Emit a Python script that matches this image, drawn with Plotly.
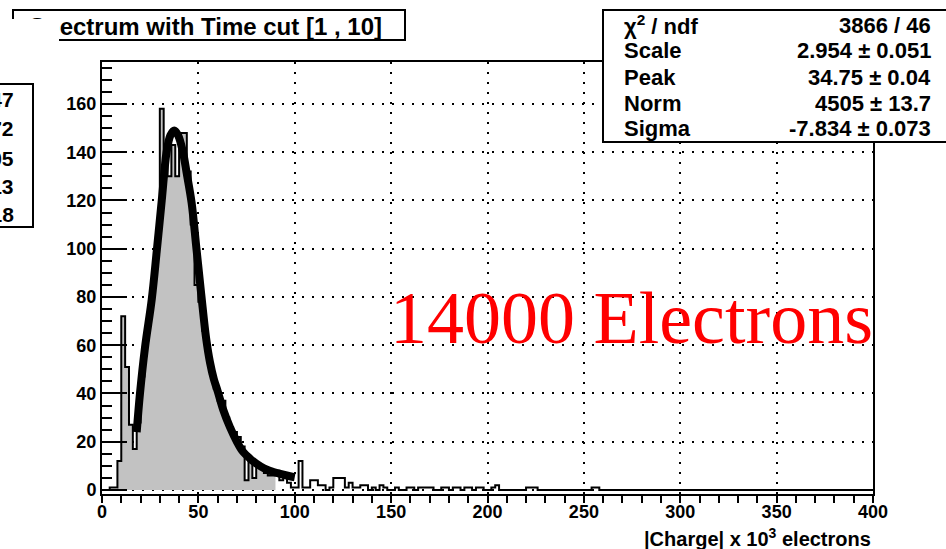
import plotly.graph_objects as go

# ---------------- data ----------------
bin_width = 2.0
x_min, x_max = 0.0, 400.0
counts = [
    0, 0, 1, 1, 12, 72, 51, 27, 17, 28,          # 0-20
    47, 62, 75, 89, 105, 158, 135, 130, 143, 130,  # 20-40
    148, 148, 132, 110, 85, 78, 66, 56, 48, 42,   # 40-60
    37, 37, 30, 26, 24, 22, 18, 4, 13, 5,         # 60-80
    10, 9, 7, 6, 6, 8, 4, 5, 3, 1,                # 80-100
    1, 12, 1, 1, 4, 4, 2, 2, 0, 1,                # 100-120
    5, 5, 5, 1, 3, 1, 1, 2, 2, 0,                 # 120-140
    1, 0, 2, 1, 0, 0, 1, 0, 0, 1,                 # 140-160
    1, 0, 1, 1, 1, 1, 0, 0, 1, 1,                 # 160-180
    0, 1, 1, 0, 1, 1, 0, 1, 1, 0,                 # 180-200
    0, 1, 2, 0, 0, 0, 0, 0, 0, 0,                 # 200-220
    1, 1, 1, 0, 0, 0, 0, 0, 0, 0,                 # 220-240
    0, 0, 0, 0, 0, 0, 0, 1, 1, 0,                 # 240-260
    0, 0, 0, 0, 0, 0, 0, 0, 0, 0,                 # 260-280
    0, 0, 0, 0, 0, 0, 0, 0, 0, 0,                 # 280-300
    0, 0, 0, 0, 0, 0, 0, 0, 0, 0,                 # 300-320
    0, 0, 0, 0, 0, 0, 0, 0, 0, 0,                 # 320-340
    0, 0, 0, 0, 0, 0, 0, 0, 0, 0,                 # 340-360
    0, 0, 0, 0, 0, 0, 0, 0, 0, 0,                 # 360-380
    0, 0, 0, 0, 0, 0, 0, 0, 0, 0,                 # 380-400
]
fill_range = [8, 90]   # shaded part of the histogram

fit_x = [18, 19.7, 22.3, 25.8, 28.4, 31, 33.5, 35.5, 37.5, 39.5, 42, 44, 46.5, 49,
         51.5, 54, 56, 58, 60, 63, 66.4, 70, 73, 76.8, 80, 84, 87, 92, 97.5, 100]
fit_y = [24, 40, 59, 79, 99, 120, 140, 147, 149, 147, 140, 131, 119, 100,
         81, 63, 53, 46, 41, 33, 26, 20, 16, 13, 11, 9, 8, 6.8, 5.7, 5.3]

title_text = "Spectrum with Time cut [1 , 10]"
stat_names = ["χ<sup>2</sup> / ndf", "Scale", "Peak", "Norm", "Sigma"]
stat_values = ["3866 / 46", "2.954 ± 0.051", "34.75 ± 0.04", "4505 ± 13.7", "-7.834 ± 0.073"]
left_stat_values = ["1947", "3.172", "39.05", "0.513", "118"]
x_title = "|Charge| x 10<sup>3</sup> electrons"
big_label = "14000 Electrons"

# ---------------- geometry helpers ----------------
W, H = 946, 549
L, R, T, B = 102, 873, 62, 494


def px(xp):
    return (xp - L) / (R - L)


def py(yp):
    return (B - yp) / (B - T)


edges = [x_min + i * bin_width for i in range(len(counts) + 1)]
step_x = edges
step_y = counts + [counts[-1]]

fx, fy = [], []
for i, c in enumerate(counts):
    if fill_range[0] <= edges[i] < fill_range[1]:
        fx.append(edges[i])
        fy.append(c)
fx.append(fill_range[1])
fy.append(fy[-1])

fig = go.Figure()
fig.add_trace(go.Scatter(x=fx, y=fy, mode="lines", line=dict(width=0, shape="hv"),
                         fill="tozeroy", fillcolor="#c2c2c2", hoverinfo="skip", showlegend=False))
fig.add_trace(go.Scatter(x=step_x, y=step_y, mode="lines",
                         line=dict(color="black", width=2, shape="hv"), showlegend=False))
fig.add_trace(go.Scatter(x=fit_x, y=fit_y, mode="lines",
                         line=dict(color="black", width=8, shape="spline"), showlegend=False))

fnt = dict(family="Liberation Sans, Arial, sans-serif", color="black", weight="bold")

fig.update_layout(
    width=W, height=H, autosize=False,
    margin=dict(l=L, r=W - R, t=T, b=H - B, pad=0),
    paper_bgcolor="white", plot_bgcolor="white",
    xaxis=dict(range=[0, 400], showline=True, linecolor="black", linewidth=2, mirror=True,
               ticks="outside", ticklen=7, tickwidth=2, tickcolor="black",
               tick0=0, dtick=50, ticklabelstandoff=-7,
               minor=dict(dtick=10, ticks="outside", ticklen=7, tickwidth=1.5, tickcolor="black", showgrid=False),
               showgrid=True, gridcolor="black", gridwidth=2, griddash="2px,8px",
               zeroline=False, tickfont=dict(size=18, **fnt)),
    yaxis=dict(range=[-1.66, 177.4], showline=True, linecolor="black", linewidth=2, mirror=True,
               ticks="inside", ticklen=25, tickwidth=2, tickcolor="black",
               tick0=0, dtick=20,
               minor=dict(dtick=5, ticks="inside", ticklen=10, tickwidth=1.5, tickcolor="black", showgrid=False),
               showgrid=True, gridcolor="black", gridwidth=2, griddash="2px,8px",
               zeroline=False, tickfont=dict(size=18, **fnt)),
)

shapes = [
    dict(type="rect", xref="paper", yref="paper", x0=px(603), x1=px(960), y0=py(142), y1=py(10),
         fillcolor="white", line=dict(color="black", width=2), layer="above"),
    dict(type="rect", xref="paper", yref="paper", x0=px(13), x1=px(405), y0=py(40), y1=py(10),
         fillcolor="white", line=dict(color="black", width=2), layer="above"),
    dict(type="rect", xref="paper", yref="paper", x0=px(-10), x1=px(33), y0=py(227), y1=py(84),
         fillcolor="white", line=dict(color="black", width=2), layer="above"),
]
fig.update_layout(shapes=shapes)

ann = []
rows_y = [25, 51, 77, 103, 128]
for name, val, yy in zip(stat_names, stat_values, rows_y):
    ann.append(dict(x=px(622), y=py(yy), xref="paper", yref="paper", text=name, showarrow=False,
                    xanchor="left", yanchor="middle", font=dict(size=22, **fnt)))
    ann.append(dict(x=px(933), y=py(yy), xref="paper", yref="paper", text=val, showarrow=False,
                    xanchor="right", yanchor="middle", font=dict(size=22, **fnt)))

for val, yy in zip(left_stat_values, [100, 128, 158, 186, 215]):
    ann.append(dict(x=px(16), y=py(yy), xref="paper", yref="paper", text=val, showarrow=False,
                    xanchor="right", yanchor="middle", font=dict(size=21, **fnt)))

ann.append(dict(x=px(384), y=py(27), xref="paper", yref="paper", text=title_text, showarrow=False,
                xanchor="right", yanchor="middle", font=dict(size=24, **fnt)))
# white patch hiding the left part of the title (as in the original picture)
ann.append(dict(x=px(0), y=py(19), xref="paper", yref="paper", text="\u00a0", showarrow=False,
                xanchor="left", yanchor="top", width=59, height=45, bgcolor="white",
                borderpad=0, borderwidth=0, font=dict(size=10, color="white")))

ann.append(dict(x=px(631), y=py(318), xref="paper", yref="paper", text=big_label, showarrow=False,
                xanchor="center", yanchor="middle",
                font=dict(family="Liberation Serif, Times New Roman, serif", size=74, color="red")))

ann.append(dict(x=px(873), y=py(537), xref="paper", yref="paper", text=x_title, showarrow=False,
                xanchor="right", yanchor="middle", font=dict(size=20, **fnt)))

fig.update_layout(annotations=ann)
fig.write_html("out.html")
